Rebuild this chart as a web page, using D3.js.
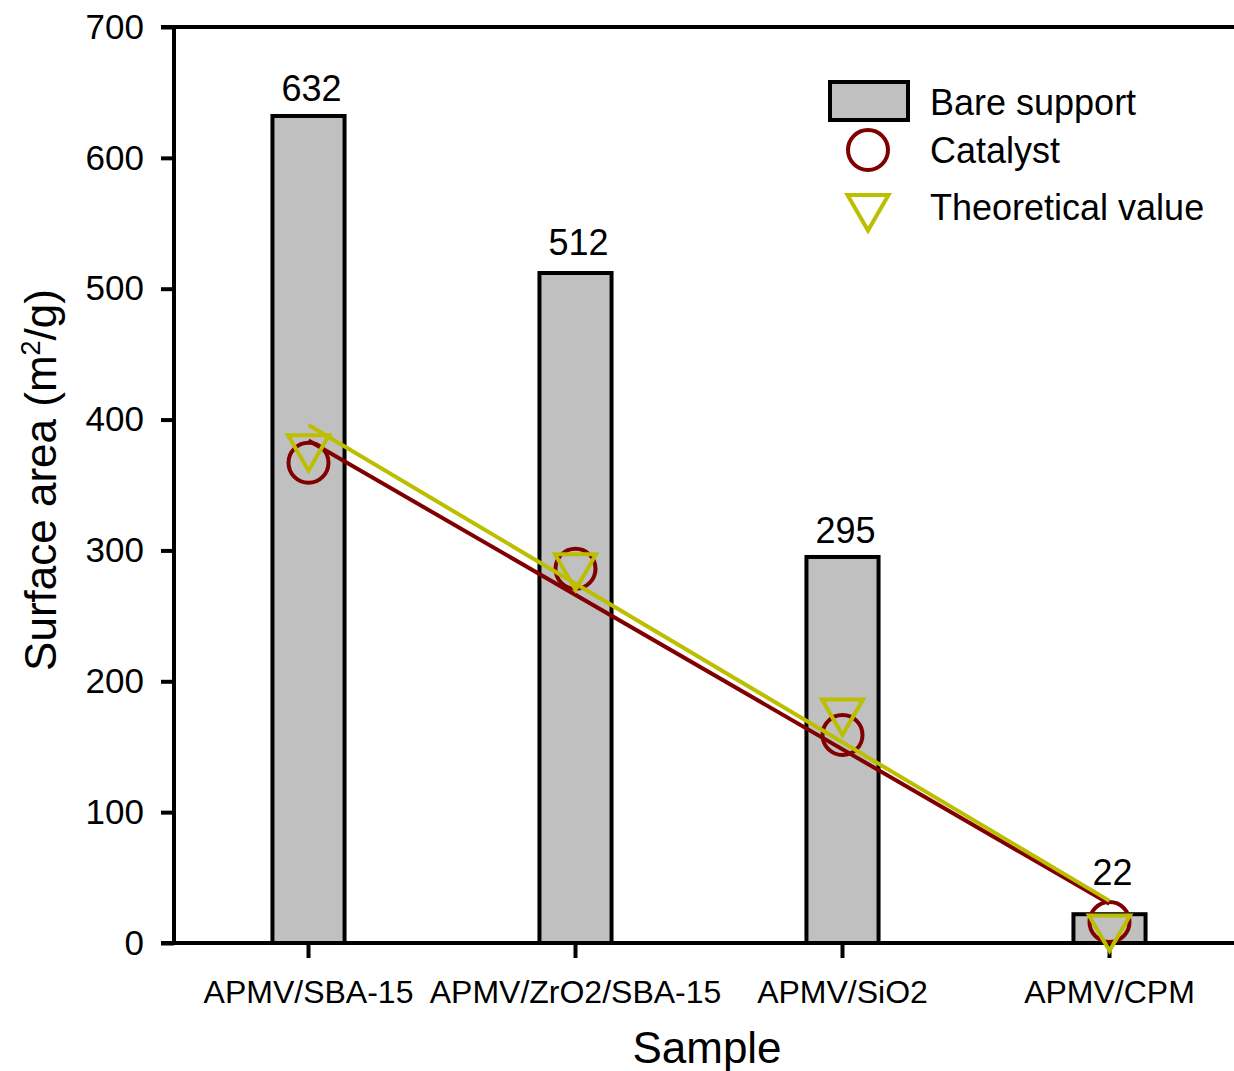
<!DOCTYPE html>
<html>
<head>
<meta charset="utf-8">
<script src="https://d3js.org/d3.v7.min.js"></script>
<style>
  body { margin: 0; background: #fff; }
  svg { font-family: 'Liberation Sans', Arial, sans-serif; }
</style>
</head>
<body>
<div id="chart"></div>
<script>
// sample names and surface areas (m2/g)
var samples = ["APMV/SBA-15", "APMV/ZrO2/SBA-15", "APMV/SiO2", "APMV/CPM"];
var bareSupport = [632, 512, 295, 22];
var catalyst = [367, 286, 159, 16];
var theoretical = [379, 288, 177, 12];
var yTicks = [0, 100, 200, 300, 400, 500, 600, 700];

var W = 1234, H = 1071;
var svg = d3.select("#chart").append("svg").attr("width", W).attr("height", H);

var x = d3.scaleBand().domain(samples).range([175, 1243]);
var y = d3.scaleLinear().domain([0, 700]).range([943, 27]);
var barW = x.bandwidth() * 0.27;
var cx = function(d) { return x(d) + x.bandwidth() / 2; };

// least squares fit through the points (index as x)
function fit(vals) {
  var n = vals.length, mx = (n - 1) / 2, my = d3.mean(vals);
  var sxy = d3.sum(vals, function(v, i) { return (i - mx) * (v - my); });
  var sxx = d3.sum(vals, function(v, i) { return (i - mx) * (i - mx); });
  var b = sxy / sxx, a = my - b * mx;
  return [[0, a], [n - 1, a + b * (n - 1)]];
}

// bars
svg.selectAll("rect.bar").data(bareSupport).join("rect")
  .attr("class", "bar")
  .attr("x", function(d, i) { return cx(samples[i]) - barW / 2; })
  .attr("y", function(d) { return y(d); })
  .attr("width", barW)
  .attr("height", function(d) { return y(0) - y(d); })
  .attr("fill", "#c0c0c0").attr("stroke", "#000").attr("stroke-width", 4);

// value labels sit a little above each bar (last one lifted clear of the markers)
var labelGap = [15, 18, 14, 29];
svg.selectAll("text.val").data(bareSupport).join("text")
  .attr("class", "val")
  .attr("x", function(d, i) { return cx(samples[i]) + 3; })
  .attr("y", function(d, i) { return y(d) - labelGap[i]; })
  .attr("text-anchor", "middle").attr("font-size", 36)
  .text(function(d) { return d; });

// axes
var yAxis = svg.append("g").attr("transform", "translate(174,0)")
  .call(d3.axisLeft(y).tickValues(yTicks).tickSize(13).tickPadding(17));
var xAxis = svg.append("g").attr("transform", "translate(0,943)")
  .call(d3.axisBottom(x).tickSize(15).tickPadding(22));
[yAxis, xAxis].forEach(function(g) {
  g.select(".domain").remove();
  g.selectAll("line").attr("stroke", "#000").attr("stroke-width", 4);
});
yAxis.selectAll("text").attr("font-size", 35).attr("fill", "#000").attr("font-family", "'Liberation Sans', Arial, sans-serif");
xAxis.selectAll("text").attr("font-size", 32).attr("fill", "#000").attr("font-family", "'Liberation Sans', Arial, sans-serif");

svg.append("line").attr("x1", 174).attr("x2", 174).attr("y1", 25).attr("y2", 945)
  .attr("stroke", "#000").attr("stroke-width", 4);
svg.append("line").attr("x1", 161).attr("x2", W).attr("y1", 943).attr("y2", 943)
  .attr("stroke", "#000").attr("stroke-width", 4);
svg.append("line").attr("x1", 161).attr("x2", W).attr("y1", 27).attr("y2", 27)
  .attr("stroke", "#000").attr("stroke-width", 4);

// axis titles
svg.append("text").attr("x", 707).attr("y", 1063).attr("text-anchor", "middle")
  .attr("font-size", 44).text("Sample");
var yt = svg.append("text").attr("transform", "translate(56,480) rotate(-90)")
  .attr("text-anchor", "middle").attr("font-size", 44);
yt.append("tspan").text("Surface area (m");
yt.append("tspan").attr("font-size", 27).attr("dy", -16).text("2");
yt.append("tspan").attr("dy", 16).text("/g)");

// fit lines and markers
var red = "#800000", yel = "#bcbe00";
var tri = function(s) { // down triangle, centroid at origin
  return "M" + (-s) + "," + (-s * 0.58) + "L" + s + "," + (-s * 0.58) + "L0," + (s * 1.15) + "Z";
};
var lineGen = d3.line()
  .x(function(p) { return cx(samples[p[0]]); })
  .y(function(p) { return y(p[1]); });

svg.append("path").attr("d", lineGen(fit(catalyst)))
  .attr("fill", "none").attr("stroke", red).attr("stroke-width", 4);
svg.selectAll("circle.cat").data(catalyst).join("circle")
  .attr("class", "cat")
  .attr("cx", function(d, i) { return cx(samples[i]); })
  .attr("cy", function(d) { return y(d); })
  .attr("r", 20).attr("fill", "none").attr("stroke", red).attr("stroke-width", 4);

svg.append("path").attr("d", lineGen(fit(theoretical)))
  .attr("fill", "none").attr("stroke", yel).attr("stroke-width", 4);
svg.selectAll("path.theo").data(theoretical).join("path")
  .attr("class", "theo")
  .attr("transform", function(d, i) { return "translate(" + cx(samples[i]) + "," + y(d) + ")"; })
  .attr("d", tri(20.5)).attr("fill", "none").attr("stroke", yel).attr("stroke-width", 4)
  .attr("stroke-linejoin", "miter");

// legend
var lg = svg.append("g");
lg.append("rect").attr("x", 830).attr("y", 82).attr("width", 78).attr("height", 38)
  .attr("fill", "#c0c0c0").attr("stroke", "#000").attr("stroke-width", 4);
lg.append("circle").attr("cx", 868).attr("cy", 150).attr("r", 20)
  .attr("fill", "none").attr("stroke", red).attr("stroke-width", 4);
lg.append("path").attr("transform", "translate(868,207)").attr("d", tri(20.5))
  .attr("fill", "none").attr("stroke", yel).attr("stroke-width", 4);
var legendText = ["Bare support", "Catalyst", "Theoretical value"];
lg.selectAll("text").data(legendText).join("text")
  .attr("x", 930).attr("y", function(d, i) { return [115, 163, 220][i]; })
  .attr("font-size", 36).text(function(d) { return d; });
</script>
</body>
</html>
